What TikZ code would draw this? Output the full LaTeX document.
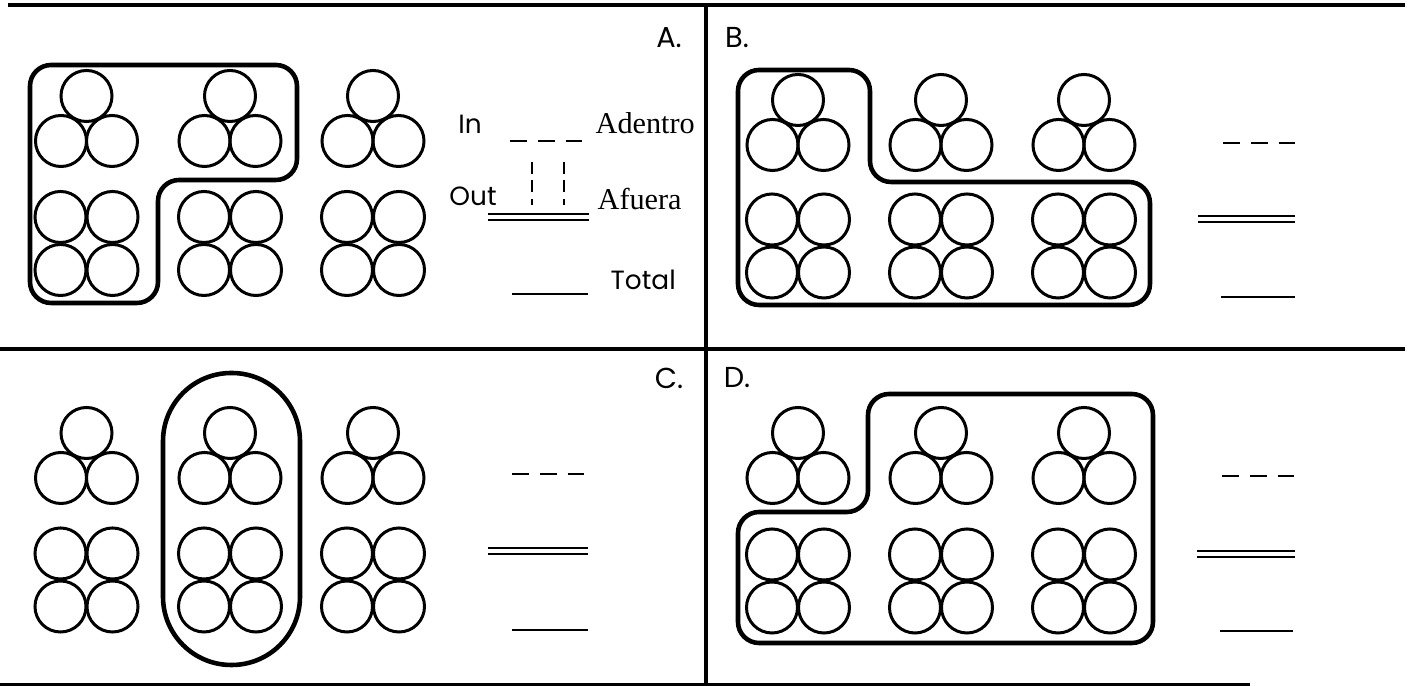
\documentclass[tikz,border=0pt]{standalone}
\usepackage{fontspec}
\setmainfont{Poppins}
\newfontfamily\spanishfont{Liberation Serif}
\usetikzlibrary{positioning, calc}

\tikzset{
    ball/.style={line width=0.85pt},
    groupline/.style={line width=1.3pt, rounded corners=6pt},
    keyline/.style={line width=0.75pt},
    threeball/.pic={
        \draw[ball] (-25.5,0) circle[radius=2.55mm];
        \draw[ball] (25.5,0) circle[radius=2.55mm];
        \draw[ball] (0,-45) circle[radius=2.55mm];
    },
    fourball/.pic={
        \foreach \dx in {-26,26}{
            \foreach \dy in {-26.5,26.5}{
                \draw[ball] (\dx,\dy) circle[radius=2.55mm];
            }
        }
    }
}

\begin{document}
\begin{tikzpicture}[x=0.01cm, y=-0.01cm]
    \useasboundingbox (0,0) rectangle (1408,686);

    % Frame
    \draw[line width=1pt] (8,5) -- (1405,5);
    \draw[line width=1pt] (0,349) -- (1405,349);
    \draw[line width=1pt] (0,685) -- (1250,685);
    \draw[line width=1pt] (706,5) -- (706,686);

    % Panel labels
    \node (LabelA) at (669,38) [font=\fontsize{8.2}{9}\selectfont]{A.};
    \node (LabelB) at (737,38) [font=\fontsize{8.2}{9}\selectfont]{B.};
    \node (LabelC) at (669,378) [font=\fontsize{8.2}{9}\selectfont]{C.};
    \node (LabelD) at (737,378) [font=\fontsize{8.2}{9}\selectfont]{D.};

    %%%%%%%%%%%%%%%%%%%
    % Panel A
    \foreach \cx in {86.5,230,373}{
        \pic at (\cx,141) {threeball};
        \pic at (\cx,243.5) {fourball};
    }
    \draw[groupline] (30,65) -- (297,65) -- (297,180) -- (158,180) -- (158,303) -- (30,303) -- cycle;

    % Key of panel A
    \node (InText) at (470,124) [font=\fontsize{7.5}{9}\selectfont]{In};
    \node (AdentroText) at (595,123) [anchor=west, inner sep=0pt, font=\spanishfont\fontsize{8.6}{9}\selectfont]{Adentro};
    \node (OutText) at (473,196) [font=\fontsize{7.5}{9}\selectfont]{Out};
    \node (AfueraText) at (597,199) [anchor=west, inner sep=0pt, font=\spanishfont\fontsize{8.6}{9}\selectfont]{Afuera};
    \node (TotalText) at (610,280) [anchor=west, inner sep=0pt, font=\fontsize{7.5}{9}\selectfont]{Total};

    \draw[keyline, dash pattern=on 4.8pt off 3.1pt] (510,141) -- (588,141);
    \draw[keyline, dash pattern=on 3.4pt off 1.8pt] (532,162) -- (532,205);
    \draw[keyline, dash pattern=on 3.4pt off 1.8pt] (564,162) -- (564,205);
    \draw[keyline, line width=0.6pt, double, double distance=1.1pt] (488,217) -- (589,217);
    \draw[keyline] (512,294) -- (588,294);

    %%%%%%%%%%%%%%%%%%%
    % Panel B
    \foreach \cx in {798,941,1084}{
        \pic at (\cx,145) {threeball};
        \pic at (\cx,246) {fourball};
    }
    \draw[groupline] (738,70) -- (870,70) -- (870,182) -- (1150,182) -- (1150,305) -- (738,305) -- cycle;

    \draw[keyline, dash pattern=on 4.8pt off 3.1pt] (1223,143) -- (1296,143);
    \draw[keyline, line width=0.6pt, double, double distance=1.1pt] (1198,219) -- (1295,219);
    \draw[keyline] (1221,297) -- (1295,297);

    %%%%%%%%%%%%%%%%%%%
    % Panel C
    \foreach \cx in {86.5,230,373}{
        \pic at (\cx,478) {threeball};
        \pic at (\cx,580) {fourball};
    }
    \draw[line width=1.3pt, rounded corners=19.4pt] (163,373) rectangle (300,665);

    \draw[keyline, dash pattern=on 4.8pt off 3.1pt] (512,474) -- (588,474);
    \draw[keyline, line width=0.6pt, double, double distance=1.1pt] (488,551) -- (588,551);
    \draw[keyline] (512,630) -- (588,630);

    %%%%%%%%%%%%%%%%%%%
    % Panel D
    \foreach \cx in {798,941,1084}{
        \pic at (\cx,478) {threeball};
        \pic at (\cx,581) {fourball};
    }
    \draw[groupline] (868,394) -- (1153,394) -- (1153,643) -- (738,643) -- (738,512) -- (868,512) -- cycle;

    \draw[keyline, dash pattern=on 4.8pt off 3.1pt] (1222,476) -- (1295,476);
    \draw[keyline, line width=0.6pt, double, double distance=1.1pt] (1197,554) -- (1295,554);
    \draw[keyline] (1220,631) -- (1293,631);
\end{tikzpicture}
\end{document}
